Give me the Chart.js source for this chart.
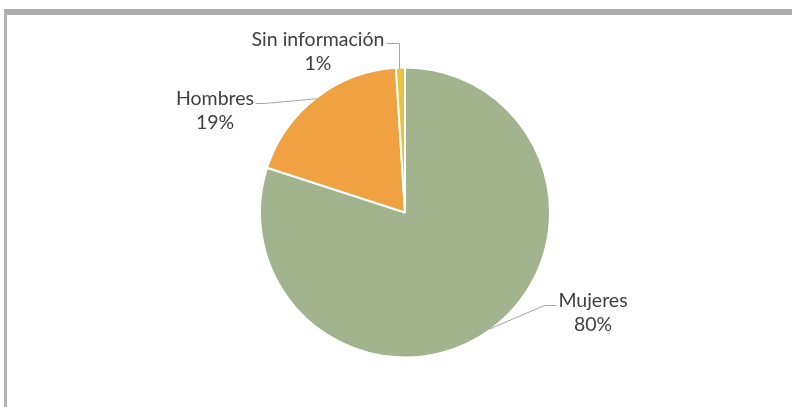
<!DOCTYPE html>
<html>
<head>
<meta charset="utf-8">
<script src="https://cdn.jsdelivr.net/npm/chart.js@4/dist/chart.umd.min.js"></script>
<style>
  html, body { margin: 0; padding: 0; background: #fff; }
  #wrap { position: relative; width: 792px; height: 407px; }
  #frame {
    position: absolute; left: 4px; top: 9px; right: 0; bottom: 0;
    border-top: 6px solid #ababab; border-left: 3px solid #b3b3b3;
  }
  canvas { position: absolute; left: 0; top: 0; }
</style>
</head>
<body>
<div id="wrap">
  <div id="frame"></div>
  <canvas id="pieChart" width="792" height="407"></canvas>
</div>
<script>
        // Chart data
        const categories = ['Mujeres', 'Hombres', 'Sin información'];
        const percentages = [80, 19, 1];
        const sliceColors = ['#a3b38e', '#f0a243', '#e9c13c'];

        // Label placement (offset from the pie centre, in pixels)
        const labelSpots = [
            { dx: 188, dy: 100 },
            { dx: -190, dy: -102 },
            { dx: -87, dy: -161 }
        ];

        const labelPlugin = {
            id: 'sliceLabels',
            afterDatasetsDraw(chart) {
                const ctx = chart.ctx;
                const arcs = chart.getDatasetMeta(0).data;
                ctx.save();
                ctx.font = '19.5px Lato, "Open Sans", sans-serif';
                ctx.fillStyle = '#404040';
                ctx.textAlign = 'center';
                ctx.textBaseline = 'middle';
                arcs.forEach((arc, i) => {
                    const spot = labelSpots[i];
                    const cx = arc.x + spot.dx;
                    const cy = arc.y + spot.dy;
                    const mid = (arc.startAngle + arc.endAngle) / 2;
                    const ax = arc.x + Math.cos(mid) * (arc.outerRadius - 1);
                    const ay = arc.y + Math.sin(mid) * (arc.outerRadius - 1);
                    const w = ctx.measureText(categories[i]).width;
                    const sx = i === 0 ? cx - w / 2 - 2 : cx + w / 2 + 2;
                    const sy = cy - 12 + (i === 2 ? 4 : 5);
                    ctx.strokeStyle = '#a6a6a6';
                    ctx.lineWidth = 1;
                    ctx.beginPath();
                    ctx.moveTo(sx, sy);
                    if (i === 2) {
                        ctx.lineTo(ax - 1, sy);
                        ctx.lineTo(ax - 1, ay);
                    } else {
                        const ex = sx + (i === 0 ? -12 : 8);
                        ctx.lineTo(ex, sy);
                        ctx.lineTo(ax, ay);
                    }
                    ctx.stroke();
                    ctx.fillText(categories[i], cx, cy - 12);
                    ctx.fillText(percentages[i] + '%', cx, cy + 12);
                });
                ctx.restore();
            }
        };

        const pieCtx = document.getElementById('pieChart').getContext('2d');
        const pieChart = new Chart(pieCtx, {
            type: 'pie',
            data: {
                labels: categories,
                datasets: [{
                    data: percentages,
                    backgroundColor: sliceColors,
                    borderColor: '#ffffff',
                    borderWidth: 2,
                    hoverOffset: 0
                }]
            },
            options: {
                responsive: false,
                animation: false,
                devicePixelRatio: 1,
                layout: {
                    padding: { left: 259, right: 241, top: 66, bottom: 48 }
                },
                plugins: {
                    legend: { display: false },
                    tooltip: { enabled: false }
                }
            },
            plugins: [labelPlugin]
        });
</script>
</body>
</html>
